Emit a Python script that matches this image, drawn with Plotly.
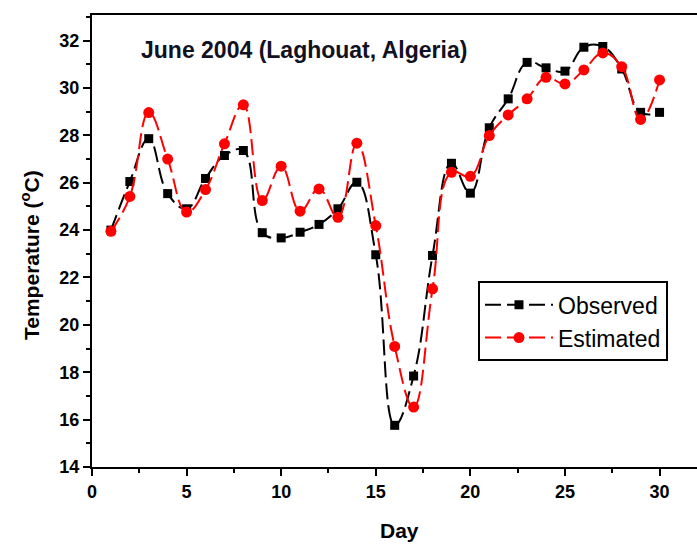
import plotly.graph_objects as go

days = list(range(1, 31))
observed = [24.0, 26.05, 27.86, 25.54, 24.9, 26.18, 27.15, 27.36, 23.89, 23.67,
            23.91, 24.24, 24.9, 26.02, 22.96, 15.76, 17.84, 22.93, 26.82, 25.56,
            28.32, 29.54, 31.08, 30.85, 30.71, 31.72, 31.75, 30.8, 28.97, 28.97]
estimated = [23.95, 25.42, 28.96, 27.0, 24.76, 25.71, 27.64, 29.29, 25.25, 26.7,
             24.8, 25.74, 24.54, 27.67, 24.19, 19.09, 16.53, 21.52, 26.44, 26.27,
             27.99, 28.86, 29.54, 30.45, 30.17, 30.76, 31.48, 30.9, 28.67, 30.34]
x_ticks = [0, 5, 10, 15, 20, 25, 30]
y_ticks = [14, 16, 18, 20, 22, 24, 26, 28, 30, 32]

FONT = "Liberation Sans, Arial, sans-serif"

fig = go.Figure()
fig.add_trace(go.Scatter(
    x=days, y=observed, name="Observed", mode="lines+markers",
    line=dict(color="black", width=2, dash="16px,6px", shape="spline", smoothing=1.2),
    marker=dict(symbol="square", size=9, color="black"),
))
fig.add_trace(go.Scatter(
    x=days, y=estimated, name="Estimated", mode="lines+markers",
    line=dict(color="#ff0000", width=2, dash="16px,6px", shape="spline", smoothing=1.2),
    marker=dict(symbol="circle", size=11, color="#ff0000"),
))

fig.update_layout(
    width=697, height=545,
    margin=dict(l=92, r=0, t=15, b=78),
    paper_bgcolor="white", plot_bgcolor="white",
    font=dict(family=FONT, color="black"),
    showlegend=True,
    legend=dict(
        x=0.638, y=0.411, xanchor="left", yanchor="top",
        bordercolor="black", borderwidth=2, bgcolor="white",
        font=dict(family=FONT, size=23, color="black"),
        itemwidth=68, tracegroupgap=0,
    ),
    xaxis=dict(
        range=[0, 31.98], tickvals=x_ticks,
        showgrid=False, zeroline=False,
        showline=True, linecolor="black", linewidth=2, mirror=True,
        ticks="outside", ticklen=7, tickwidth=2, tickcolor="black",
        minor=dict(dtick=2.5, tick0=0, ticks="outside", ticklen=4, tickwidth=2, tickcolor="black"),
        tickfont=dict(family=FONT, size=18, color="black", weight="bold"),
    ),
    yaxis=dict(
        range=[14, 33.08], tickvals=y_ticks,
        showgrid=False, zeroline=False,
        showline=True, linecolor="black", linewidth=2,
        ticks="outside", ticklen=7, tickwidth=2, tickcolor="black",
        minor=dict(dtick=1, tick0=0, ticks="outside", ticklen=4, tickwidth=2, tickcolor="black"),
        tickfont=dict(family=FONT, size=18, color="black", weight="bold"),
    ),
    annotations=[
        dict(text="<b>June 2004 (Laghouat, Algeria)</b>", xref="paper", yref="paper",
             x=(139 - 92) / 605, y=(467 - 49.5) / 452, xanchor="left", yanchor="middle",
             showarrow=False, font=dict(family=FONT, size=23, color="#111122")),
        dict(text="<b>Temperature (<sup>o</sup>C)</b>", xref="paper", yref="paper",
             x=(30 - 92) / 605, y=(467 - 255) / 452, xanchor="center", yanchor="middle",
             textangle=-90, showarrow=False, font=dict(family=FONT, size=21, color="black")),
        dict(text="<b>Day</b>", xref="paper", yref="paper",
             x=(400 - 92) / 605, y=(467 - 530) / 452, xanchor="center", yanchor="middle",
             showarrow=False, font=dict(family=FONT, size=21, color="black")),
    ],
)

fig.write_html("out.html", config={"displayModeBar": False},
               post_script="document.body.style.margin='0px';document.body.style.overflow='hidden';")
